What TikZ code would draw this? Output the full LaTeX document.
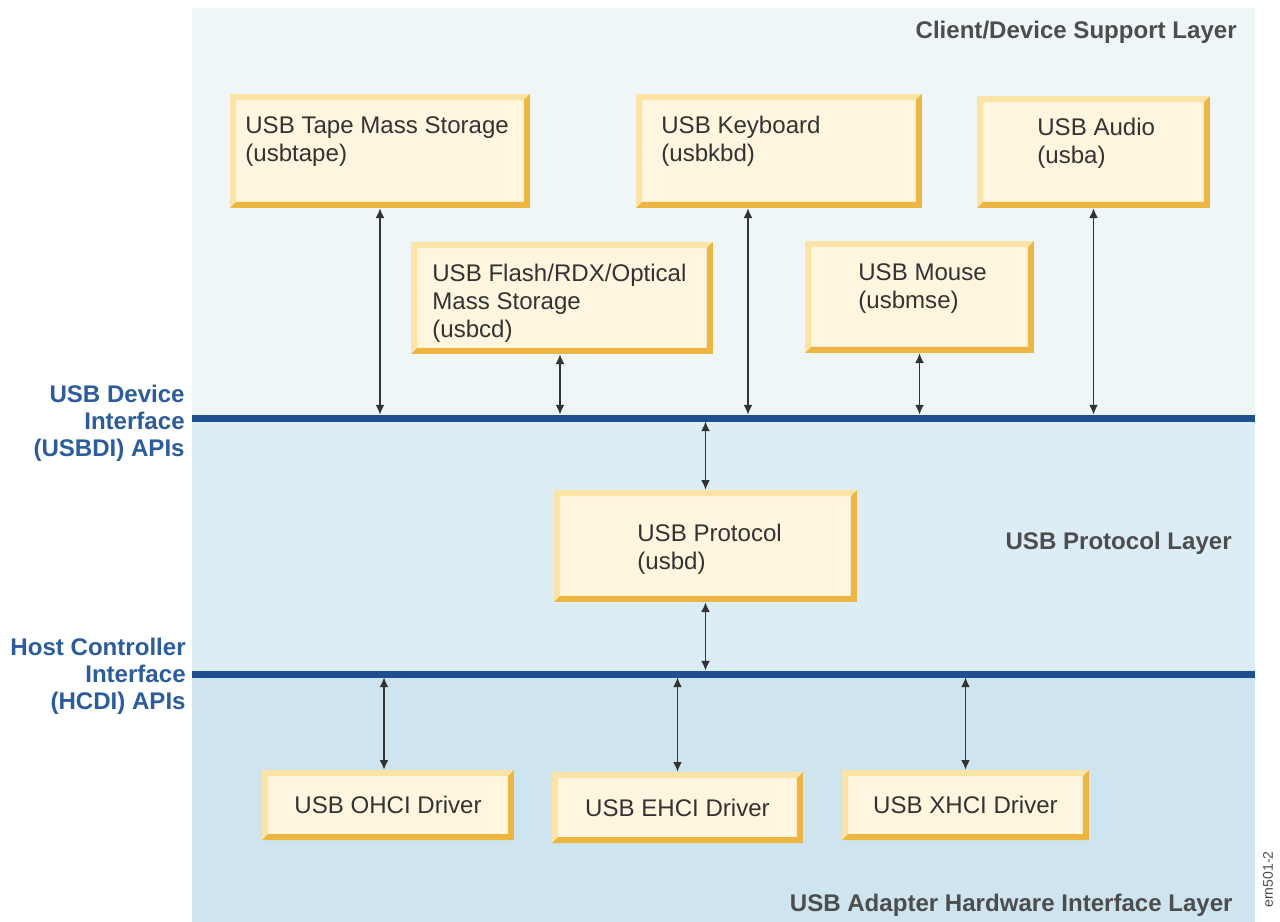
\documentclass[tikz,border=0pt]{standalone}
\usepackage{fontspec}
\setmainfont{Liberation Sans}
\usetikzlibrary{arrows.meta}
\definecolor{topbg}{HTML}{EEF6F7}
\definecolor{midbg}{HTML}{DDEDF6}
\definecolor{botbg}{HTML}{CEE5F0}
\definecolor{boxfill}{HTML}{FEF6DE}
\definecolor{boxlight}{HTML}{FBE4A6}
\definecolor{boxdark}{HTML}{EDB640}
\definecolor{boxtext}{HTML}{333333}
\definecolor{layertext}{HTML}{4D4D4D}
\definecolor{apiblue}{HTML}{2B5C9E}
\definecolor{busblue}{HTML}{1D4F91}
\definecolor{arrowgray}{HTML}{333333}
\tikzset{
  usbbox/.style={fill=boxfill, inner sep=0pt, text=boxtext,
    font=\fontsize{13.7}{15.9}\selectfont,
    path picture={
      \fill[boxlight] (path picture bounding box.south west) |- (path picture bounding box.north east)
        -- ++(-0.12cm,-0.12cm) -| ([shift={(0.12cm,0.12cm)}]path picture bounding box.south west) -- cycle;
      \fill[boxdark] (path picture bounding box.south west) -| (path picture bounding box.north east)
        -- ++(-0.12cm,-0.12cm) |- ([shift={(0.12cm,0.12cm)}]path picture bounding box.south west) -- cycle;
    }},
  boxtxt/.style={text=boxtext, align=left, inner sep=0pt, anchor=north west,
    font=\fontsize{13.7}{15.9}\selectfont},
  layertxt/.style={text=layertext, inner sep=0pt, anchor=base east,
    font=\bfseries\fontsize{13.7}{15.9}\selectfont},
  apitxt/.style={text=apiblue, align=right, inner sep=0pt, anchor=east,
    font=\bfseries\fontsize{13.7}{15.3}\selectfont},
  bus/.style={draw=busblue, line width=0.14cm},
  biarrow/.style={{Latex[length=5.5pt,width=5pt]}-{Latex[length=5.5pt,width=5pt]},
    draw=arrowgray, line width=0.7pt}
}
\begin{document}
\begin{tikzpicture}[x=0.02cm, y=-0.02cm]
\useasboundingbox (0,0) rectangle (1280,922);
% layers
\fill[topbg] (192,8) rectangle (1255,418);
\fill[midbg] (192,418) rectangle (1255,674);
\fill[botbg] (192,674) rectangle (1255,922);
\node[layertxt] (client) at (1237,38.5) {Client/Device Support Layer};
\node[layertxt] (protolayer) at (1232,549.5) {USB Protocol Layer};
\node[layertxt] (adapter) at (1233,911.5) {USB Adapter Hardware Interface Layer};
\node[text=layertext, rotate=90, anchor=east, inner sep=0pt, font=\fontsize{8}{9}\selectfont] (figid) at (1268,851) {ern501-2};

% API buses
\coordinate (di-w) at (192,418);
\coordinate (di-e) at (1255,418);
\coordinate (hc-w) at (192,674);
\coordinate (hc-e) at (1255,674);
\draw[bus] (di-w) -- (di-e);
\draw[bus] (hc-w) -- (hc-e);
\node[apitxt] (usbdi) at (185,423) {USB Device\\Interface\\(USBDI) APIs};
\node[apitxt] (hcdi) at (186,676) {Host Controller\\Interface\\(HCDI) APIs};

% client drivers
\node[usbbox, minimum width=6cm, minimum height=2.28cm] (tape) at (380,151) {};
\node[boxtxt] (tape-t) at (245,116) {USB Tape Mass Storage\\(usbtape)};
\node[usbbox, minimum width=5.72cm, minimum height=2.28cm] (kbd) at (779,151) {};
\node[boxtxt] (kbd-t) at (661,116) {USB Keyboard\\(usbkbd)};
\node[usbbox, minimum width=4.66cm, minimum height=2.24cm] (audio) at (1093.5,152) {};
\node[boxtxt] (audio-t) at (1037,118) {USB Audio\\(usba)};
\node[usbbox, minimum width=6.04cm, minimum height=2.24cm] (flash) at (562,298) {};
\node[boxtxt] (flash-t) at (432,264) {USB Flash/RDX/Optical\\Mass Storage\\(usbcd)};
\node[usbbox, minimum width=4.58cm, minimum height=2.24cm] (mouse) at (919.5,297) {};
\node[boxtxt] (mouse-t) at (858,263) {USB Mouse\\(usbmse)};

% protocol
\node[usbbox, minimum width=6.06cm, minimum height=2.24cm] (proto) at (705.5,546) {};
\node[boxtxt] (proto-t) at (637,524) {USB Protocol\\(usbd)};

% host controller drivers
\node[usbbox, minimum width=5.04cm, minimum height=1.4cm] (ohci) at (388,805) {USB OHCI Driver};
\node[usbbox, minimum width=5.02cm, minimum height=1.42cm] (ehci) at (677.5,807.5) {USB EHCI Driver};
\node[usbbox, minimum width=4.94cm, minimum height=1.4cm] (xhci) at (965.5,805) {USB XHCI Driver};

% connectors
\draw[biarrow, shorten >=0.07cm] (tape.south) -- (tape.south |- di-w);
\draw[biarrow, shorten >=0.07cm] ([xshift=-0.04cm]flash.south) -- ([xshift=-0.04cm]flash.south |- di-w);
\draw[biarrow, shorten >=0.07cm] ([xshift=-0.62cm]kbd.south) -- ([xshift=-0.62cm]kbd.south |- di-w);
\draw[biarrow, shorten >=0.07cm] (mouse.south) -- (mouse.south |- di-w);
\draw[biarrow, shorten >=0.07cm] (audio.south) -- (audio.south |- di-w);
\draw[biarrow, shorten >=0.07cm] (proto.north) -- (proto.north |- di-w);
\draw[biarrow, shorten >=0.07cm] (proto.south) -- (proto.south |- hc-w);
\draw[biarrow, shorten >=0.07cm] ([xshift=-0.08cm]ohci.north) -- ([xshift=-0.08cm]ohci.north |- hc-w);
\draw[biarrow, shorten >=0.07cm] (ehci.north) -- (ehci.north |- hc-w);
\draw[biarrow, shorten >=0.07cm] (xhci.north) -- (xhci.north |- hc-w);
\end{tikzpicture}
\end{document}
